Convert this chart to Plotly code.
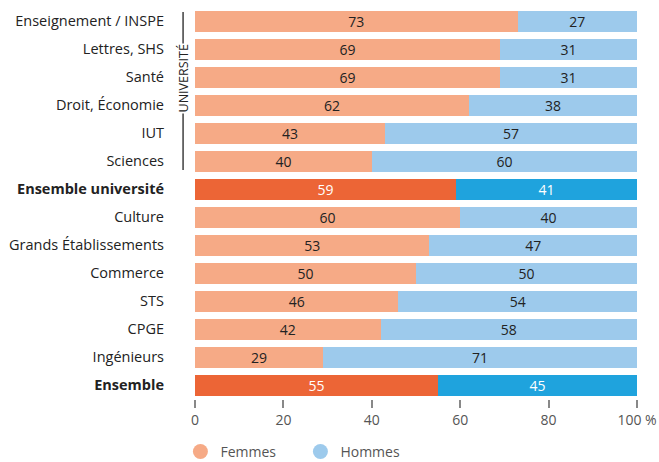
import plotly.graph_objects as go

# Filières, de haut en bas
categories = [
    "Enseignement / INSPE", "Lettres, SHS", "Santé", "Droit, Économie", "IUT",
    "Sciences", "Ensemble université", "Culture", "Grands Établissements",
    "Commerce", "STS", "CPGE", "Ingénieurs", "Ensemble",
]
femmes = [73, 69, 69, 62, 43, 40, 59, 60, 53, 50, 46, 42, 29, 55]
hommes = [27, 31, 31, 38, 57, 60, 41, 40, 47, 50, 54, 58, 71, 45]
totals = {"Ensemble université", "Ensemble"}

x_ticks = [0, 20, 40, 60, 80, 100]
x_ticktext = ["0", "20", "40", "60", "80", "100 %"]

F_LIGHT, F_DARK = "#F6AA86", "#EC6536"
H_LIGHT, H_DARK = "#9DCAEC", "#1FA3DD"

is_total = [c in totals for c in categories]
ticktext = [f"<b>{c}</b>" if t else c for c, t in zip(categories, is_total)]

fig = go.Figure()
for name, vals, light, dark in [("Femmes", femmes, F_LIGHT, F_DARK),
                                ("Hommes", hommes, H_LIGHT, H_DARK)]:
    fig.add_bar(
        y=categories, x=vals, orientation="h", name=name, showlegend=False,
        marker=dict(color=[dark if t else light for t in is_total], line_width=0),
        text=[str(v) for v in vals], textposition="inside",
        insidetextanchor="middle", textangle=0, constraintext="none",
        textfont=dict(color=["white" if t else "#222" for t in is_total], size=14),
        hoverinfo="skip",
    )

# Legend entries drawn as round markers
for name, col in [("Femmes", F_LIGHT), ("Hommes", H_LIGHT)]:
    fig.add_scatter(
        x=[None], y=[None], mode="markers", name=name,
        marker=dict(symbol="circle", size=15, color=col),
    )

# Bracket marking the university sub-group
BX = -0.027
fig.add_shape(type="line", xref="paper", yref="y", x0=BX, x1=BX,
              y0=-0.32, y1=0.8, line=dict(color="#222", width=1.3))
fig.add_shape(type="line", xref="paper", yref="y", x0=BX, x1=BX,
              y0=3.3, y1=5.32, line=dict(color="#222", width=1.3))
fig.add_annotation(
    text="UNIVERSITÉ", xref="paper", yref="y", x=BX, y=2.05,
    xanchor="center", yanchor="middle",
    textangle=-90, showarrow=False, font=dict(size=12.5, color="#222"),
)

fig.update_layout(
    barmode="stack",
    bargap=0.25,
    uniformtext=dict(minsize=13, mode="show"),
    width=659, height=462,
    margin=dict(l=195, r=22, t=7, b=63, autoexpand=False),
    plot_bgcolor="white", paper_bgcolor="white",
    font=dict(family="Open Sans, Lato, sans-serif", size=14, color="#222"),
    xaxis=dict(
        range=[0, 100], tickvals=x_ticks, ticktext=x_ticktext,
        ticks="outside", ticklen=8, tickwidth=1.5, tickcolor="#888",
        showgrid=False, zeroline=False, showline=False,
        tickfont=dict(size=14, color="#555"),
    ),
    yaxis=dict(
        categoryorder="array", categoryarray=categories, autorange="reversed",
        tickvals=categories, ticktext=ticktext, ticks="",
        ticklabelstandoff=30, showgrid=False, zeroline=False,
        tickfont=dict(size=14.5, color="#222"),
    ),
    legend=dict(
        orientation="h", x=-0.033, y=-0.135, xanchor="left", yanchor="middle",
        traceorder="normal", font=dict(size=14, color="#555"),
        entrywidth=75,
    ),
)

fig.write_html("out.html")
